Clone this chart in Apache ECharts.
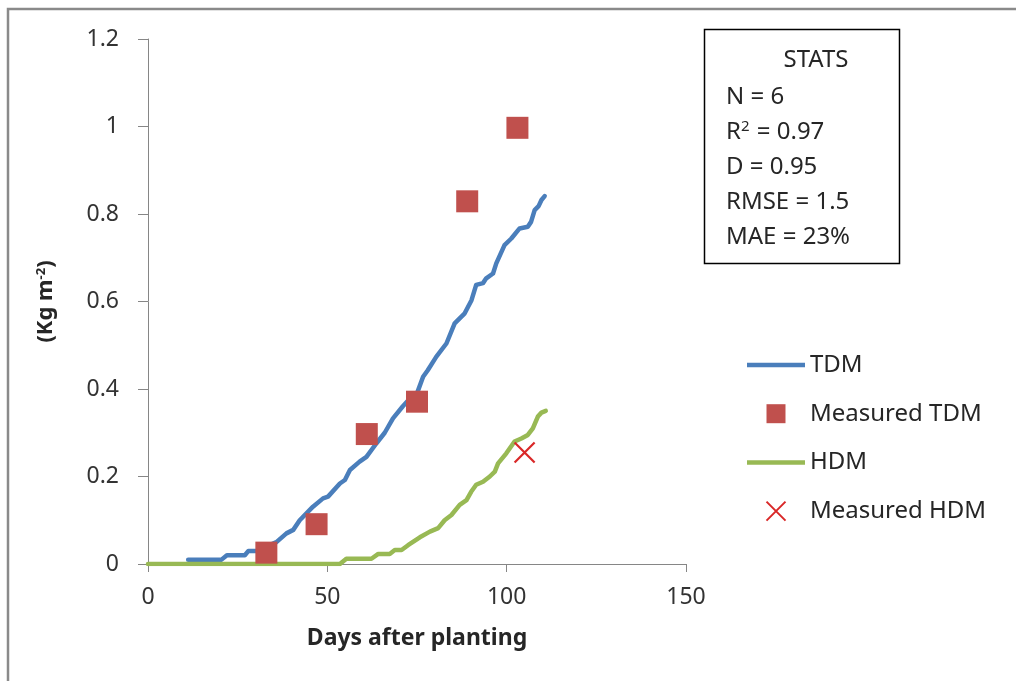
<!DOCTYPE html>
<html>
<head>
<meta charset="utf-8">
<title>TDM / HDM over days after planting</title>
<script src="https://cdn.jsdelivr.net/npm/echarts@6/dist/echarts.min.js"></script>
<style>
  html, body { margin: 0; padding: 0; background: #fff; }
  #chart { width: 1016px; height: 681px; }
</style>
</head>
<body>
<div id="chart"></div>
<script>
// Simulated total dry matter (TDM), kg m-2, by day after planting
const tdmDays = [11.2, 20.5, 22, 27, 28, 31, 33, 35.8, 38.6, 40.5, 42.3, 46, 48.8, 50.2, 53.5, 54.9,
  56.3, 59, 60.9, 63.7, 66, 68.3, 71, 73.4, 75, 76.7, 78, 80.4, 83.2, 85.5, 88.3, 90.2, 91.5, 93.4,
  94.3, 96.2, 97.1, 99.4, 101.3, 103.6, 105.9, 106.8, 107.8, 108.9, 109.7, 110.6];
const tdmKg = [0.01, 0.01, 0.02, 0.02, 0.03, 0.03, 0.04, 0.05, 0.07, 0.078, 0.10, 0.131, 0.15, 0.154, 0.184, 0.192,
  0.215, 0.234, 0.245, 0.276, 0.30, 0.333, 0.36, 0.382, 0.39, 0.428, 0.443, 0.474, 0.504, 0.55, 0.573, 0.603, 0.638, 0.642,
  0.653, 0.664, 0.687, 0.729, 0.744, 0.767, 0.771, 0.782, 0.809, 0.818, 0.832, 0.841];

// Simulated harvestable dry matter (HDM)
const hdmDays = [0, 53.5, 55.3, 62.3, 64.2, 67.4, 68.8, 70.7, 72.5, 75.8, 78.6, 80.9, 82.7, 84.6, 86.9,
  88.8, 90.1, 91.5, 93.4, 95.3, 96.7, 97.6, 99.9, 102.2, 104.1, 105.9, 107.3, 108.7, 109.7, 110.9];
const hdmKg = [0, 0, 0.012, 0.012, 0.023, 0.023, 0.032, 0.032, 0.043, 0.061, 0.074, 0.082, 0.10, 0.112, 0.135,
  0.146, 0.165, 0.181, 0.188, 0.20, 0.211, 0.23, 0.253, 0.28, 0.287, 0.295, 0.31, 0.337, 0.346, 0.35];

// Field measurements
const measuredTdmDays = [33, 47, 61, 75, 89, 103];
const measuredTdmKg = [0.026, 0.091, 0.297, 0.371, 0.829, 0.997];
const measuredHdmDays = [105];
const measuredHdmKg = [0.255];

// Axis ranges
const xRange = { min: 0, max: 150, step: 50 };
const yRange = { min: 0, max: 1.2, step: 0.2 };

// Goodness-of-fit summary
const statsTitle = 'STATS';
const statsLines = ['N = 6', 'R{sup|2} = 0.97', 'D = 0.95', 'RMSE = 1.5', 'MAE = 23%'];

const zip = (xs, ys) => xs.map((x, i) => [x, ys[i]]);

const FONT = '"Noto Sans", "DejaVu Sans", sans-serif';
const TEXT = '#262626';
const AXIS = '#868686';
const BLUE = '#4A7EBB';
const GREEN = '#98B954';
const RED_SQ = '#C0504D';
const RED_X = '#D92727';
const CROSS = 'path://M0,0L10,10M10,0L0,10';
const SQUARE = 'path://M0,0H10V10H0Z';
const BAR = 'path://M0,0H58V4.5H0Z';

const chart = echarts.init(document.getElementById('chart'), null, { renderer: 'canvas' });

const statsGraphics = [
  {
    type: 'rect', z: 10,
    shape: { x: 704.5, y: 29.5, width: 195, height: 234 },
    style: { fill: '#fff', stroke: '#000', lineWidth: 1.5 }
  },
  {
    type: 'text', z: 11, x: 816, y: 60,
    style: { text: statsTitle, fontFamily: FONT, fontSize: 24, fill: TEXT, align: 'center', verticalAlign: 'middle' }
  }
].concat(statsLines.map((t, i) => ({
  type: 'text', z: 11, x: 726, y: 97 + i * 35,
  style: {
    text: t, fontFamily: FONT, fontSize: 24, fill: TEXT, align: 'left', verticalAlign: 'middle',
    rich: { sup: { fontFamily: FONT, fontSize: 15, fill: TEXT, verticalAlign: 'top', padding: [0, 1, 10, 0] } }
  }
})));

chart.setOption({
  animation: false,
  backgroundColor: '#fff',
  textStyle: { fontFamily: FONT },
  grid: { left: 148, top: 39, width: 538, height: 525, containLabel: false, outerBoundsMode: 'none' },
  xAxis: {
    type: 'value', min: xRange.min, max: xRange.max, interval: xRange.step,
    name: 'Days after planting', nameLocation: 'middle', nameGap: 63,
    nameTextStyle: { fontFamily: FONT, fontSize: 23, fontWeight: 'bold', color: TEXT },
    axisLine: { show: true, onZero: false, lineStyle: { color: AXIS, width: 1 } },
    axisTick: { show: true, inside: false, length: 8, lineStyle: { color: AXIS, width: 1 } },
    axisLabel: { margin: 22, fontFamily: FONT, fontSize: 23, color: '#333' },
    splitLine: { show: false }
  },
  yAxis: {
    type: 'value', min: yRange.min, max: yRange.max, interval: yRange.step,
    name: '(Kg m{sup|-2})', nameLocation: 'middle', nameGap: 91, nameRotate: 90,
    nameTextStyle: {
      fontFamily: FONT, fontSize: 22, fontWeight: 'bold', color: TEXT,
      rich: { sup: { fontFamily: FONT, fontSize: 13, fontWeight: 'bold', color: TEXT, verticalAlign: 'top', padding: [0, 0, 9, 0] } }
    },
    axisLine: { show: true, onZero: false, lineStyle: { color: AXIS, width: 1 } },
    axisTick: { show: true, inside: false, length: 10, lineStyle: { color: AXIS, width: 1 } },
    axisLabel: { margin: 29, fontFamily: FONT, fontSize: 23, color: '#333' },
    splitLine: { show: false }
  },
  legend: {
    orient: 'vertical', left: 742, top: 345,
    itemWidth: 58, itemHeight: 19, itemGap: 18.7, symbolKeepAspect: true,
    textStyle: { fontFamily: FONT, fontSize: 24, color: TEXT, lineHeight: 30 },
    data: [
      { name: 'TDM', icon: BAR, itemStyle: { color: BLUE, borderWidth: 0 } },
      { name: 'Measured TDM', icon: SQUARE, itemStyle: { color: RED_SQ, borderWidth: 0 } },
      { name: 'HDM', icon: BAR, itemStyle: { color: GREEN, borderWidth: 0 } },
      { name: 'Measured HDM', icon: CROSS, itemStyle: { color: 'transparent', borderColor: RED_X, borderWidth: 2 } }
    ]
  },
  series: [
    {
      name: 'TDM', type: 'line', data: zip(tdmDays, tdmKg), symbol: 'none', z: 2,
      lineStyle: { color: BLUE, width: 4.5, cap: 'round', join: 'round' },
      itemStyle: { color: BLUE }
    },
    {
      name: 'Measured TDM', type: 'scatter', data: zip(measuredTdmDays, measuredTdmKg), z: 5,
      symbol: 'rect', symbolSize: 22,
      itemStyle: { color: RED_SQ, opacity: 1 }
    },
    {
      name: 'HDM', type: 'line', data: zip(hdmDays, hdmKg), symbol: 'none', z: 2,
      lineStyle: { color: GREEN, width: 4.5, cap: 'round', join: 'round' },
      itemStyle: { color: GREEN }
    },
    {
      name: 'Measured HDM', type: 'scatter', data: zip(measuredHdmDays, measuredHdmKg), z: 5,
      symbol: CROSS, symbolSize: 20,
      itemStyle: { color: 'transparent', borderColor: RED_X, borderWidth: 2.2, opacity: 1 }
    }
  ],
  graphic: [
    {
      type: 'rect', z: 0, silent: true,
      shape: { x: 8, y: 9, width: 1200, height: 900 },
      style: { fill: 'none', stroke: '#8a8a8a', lineWidth: 2.5 }
    }
  ].concat(statsGraphics)
});
</script>
</body>
</html>
